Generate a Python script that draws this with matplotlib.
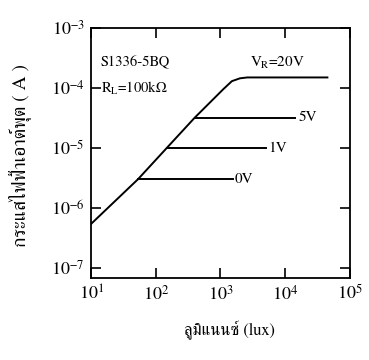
import matplotlib
matplotlib.use("Agg")
import matplotlib.pyplot as plt
from matplotlib.ticker import FixedLocator, NullLocator

plt.rcParams['font.family'] = ['FreeSerif', 'DejaVu Serif']
plt.rcParams['mathtext.fontset'] = 'custom'
plt.rcParams['mathtext.rm'] = 'FreeSerif'
plt.rcParams['mathtext.it'] = 'FreeSerif:italic'

# diagonal (linear region) that bends into the 20 V plateau
lux_20v = [10, 53, 148, 400, 1100, 1500, 2000, 2600, 45000]
cur_20v = [5.4e-7, 3.0e-6, 1.0e-5, 3.2e-5, 9.5e-5, 1.3e-4, 1.45e-4, 1.5e-4, 1.5e-4]

# saturation plateaus for lower reverse voltages
lux_5v = [400, 14000]
cur_5v = [3.2e-5, 3.2e-5]
lux_1v = [148, 5000]
cur_1v = [1.0e-5, 1.0e-5]
lux_0v = [53, 1550]
cur_0v = [3.0e-6, 3.0e-6]

x_ticks = [1e1, 1e2, 1e3, 1e4, 1e5]
x_labels = ['$10^{1}$', '$10^{2}$', '$10^{3}$', '$10^{4}$', '$10^{5}$']
y_ticks = [1e-7, 1e-6, 1e-5, 1e-4, 1e-3]
y_labels = ['$10^{-7}$', '$10^{-6}$', '$10^{-5}$', '$10^{-4}$', '$10^{-3}$']

fig = plt.figure(figsize=(3.69, 3.6), dpi=100)
ax = fig.add_axes([0.247, 0.228, 0.701, 0.694])

ax.plot(lux_20v, cur_20v, color='black', lw=1.4)
ax.plot(lux_5v, cur_5v, color='black', lw=1.4)
ax.plot(lux_1v, cur_1v, color='black', lw=1.4)
ax.plot(lux_0v, cur_0v, color='black', lw=1.4)

ax.set_xscale('log')
ax.set_yscale('log')
ax.set_xlim(1e1, 1e5)
ax.set_ylim(10 ** -7.17, 1e-3)

ax.xaxis.set_major_locator(FixedLocator(x_ticks))
ax.yaxis.set_major_locator(FixedLocator(y_ticks))
ax.xaxis.set_minor_locator(NullLocator())
ax.yaxis.set_minor_locator(NullLocator())
ax.set_xticklabels(x_labels)
ax.set_yticklabels(y_labels)
ax.tick_params(direction='in', length=7, width=1.2, top=True, right=True,
               labelsize=13, pad=5)
for s in ax.spines.values():
    s.set_linewidth(1.3)

# curve labels
ax.text(1550 * 1.07, 3.0e-6, '0V', fontsize=11, va='center', ha='left')
ax.text(5000 * 1.1, 1.0e-5, '1V', fontsize=11, va='center', ha='left')
ax.text(14000 * 1.15, 3.2e-5, '5V', fontsize=11, va='center', ha='left')
ax.text(2900, 2.65e-4, '$\\mathrm{V_R}$=20V', fontsize=11, va='center', ha='left')
ax.text(14, 2.7e-4, 'S1336-5BQ', fontsize=10.5, va='center', ha='left')
ax.text(14, 1.0e-4, '$\\mathrm{R_L}$=100k\u03a9', fontsize=10.5, va='center', ha='left')

ax.set_xlabel('ลูมิแนนซ์ (lux)', fontsize=12)
ax.xaxis.set_label_coords(0.535, -0.17)
ax.set_ylabel('กระแสไฟฟ้าเอาต์พุต ( A )', fontsize=14)
ax.yaxis.set_label_coords(-0.228, 0.49)

fig.savefig('out.png', dpi=100)
